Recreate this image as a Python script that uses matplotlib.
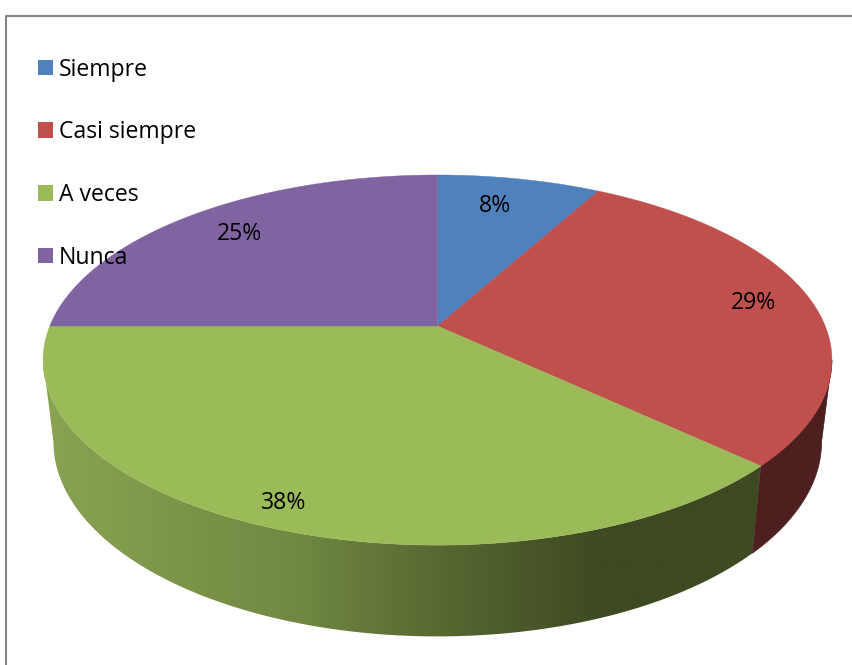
import matplotlib
matplotlib.use('Agg')
import matplotlib.pyplot as plt
import numpy as np
from matplotlib.patches import Patch, Polygon

categories = ['Siempre', 'Casi siempre', 'A veces', 'Nunca']
values = [8, 29, 38, 25]
colors = ['#4f81bd', '#c0504d', '#9bbb59', '#8064a2']

# posicion de las etiquetas en pixeles
label_x = [495, 754, 284, 240]
label_y = [206, 303, 503, 234]

plt.rcParams['font.family'] = ['Open Sans', 'DejaVu Sans']

# perspectiva del disco superior e inferior
K = 0.184
CX = 437.5


def project(theta, r=1.0, a=387.7, b=178.8, cy=326.0):
    u = np.sin(theta) * r
    v = np.cos(theta) * r
    w = 1 + K * v
    return CX + a * u / w, cy - b * v / w


def project_low(theta):
    return project(theta, a=377.5, b=188.0, cy=406.0)


fig = plt.figure(figsize=(8.53, 6.65), dpi=100)
ax = fig.add_axes([0, 0, 1, 1])

# marco del grafico
ax.plot([6.5, 6.5, 853], [665, 15.5, 15.5], color='#868686', lw=1.5, zorder=1)

edges = np.cumsum([0] + values) / sum(values) * 2 * np.pi
limit_r = np.arccos(-K)
limit_l = 2 * np.pi - limit_r

# lateral rojo
t = np.linspace(limit_r, edges[2], 40)
xt, yt = project(t)
xb, yb = project_low(t)
ax.fill(np.r_[xt, xb[::-1]], np.r_[yt, yb[::-1]], color='#4d1f1f', lw=0.5, zorder=2)

# lateral verde con degradado horizontal, recortado al contorno
t = np.linspace(edges[2], limit_l, 200)
xt, yt = project(t)
xb, yb = project_low(t)
outline = Polygon(np.c_[np.r_[xt, xb[::-1]], np.r_[yt, yb[::-1]]], closed=True,
                  facecolor='none', edgecolor='none', transform=ax.transData)
ax.add_patch(outline)
gx = np.linspace(0, 853, 854)
stops = [45, 300, 437, 600, 760]
grad = np.stack([np.interp(gx, stops, [138, 112, 88, 62, 62]),
                 np.interp(gx, stops, [163, 136, 105, 74, 74]),
                 np.interp(gx, stops, [82, 65, 50, 33, 33])], axis=-1) / 255
im = ax.imshow(grad[np.newaxis, :, :], extent=(0, 853, 665, 0), aspect='auto', zorder=2)
im.set_clip_path(outline)

# cara superior
for i, c in enumerate(colors):
    t = np.linspace(edges[i], edges[i + 1], 120)
    x, y = project(t)
    ax.fill(np.r_[CX, x], np.r_[326.0, y], color=c, lw=0.3, zorder=3)

for v, x, y in zip(values, label_x, label_y):
    ax.text(x, y, f'{v}%', ha='center', va='center', fontsize=16.6, color='black', zorder=4)

ax.set_xlim(0, 853)
ax.set_ylim(665, 0)
ax.axis('off')

handles = [Patch(facecolor=c, edgecolor='none') for c in colors]
ax.legend(handles, categories, loc='upper left', bbox_to_anchor=(38 / 853, 1 - 57.5 / 665),
          frameon=False, fontsize=16.6, borderpad=0, borderaxespad=0,
          handlelength=0.65, handleheight=0.65, handletextpad=0.24, labelspacing=1.68)

fig.savefig('out.png', dpi=100)
